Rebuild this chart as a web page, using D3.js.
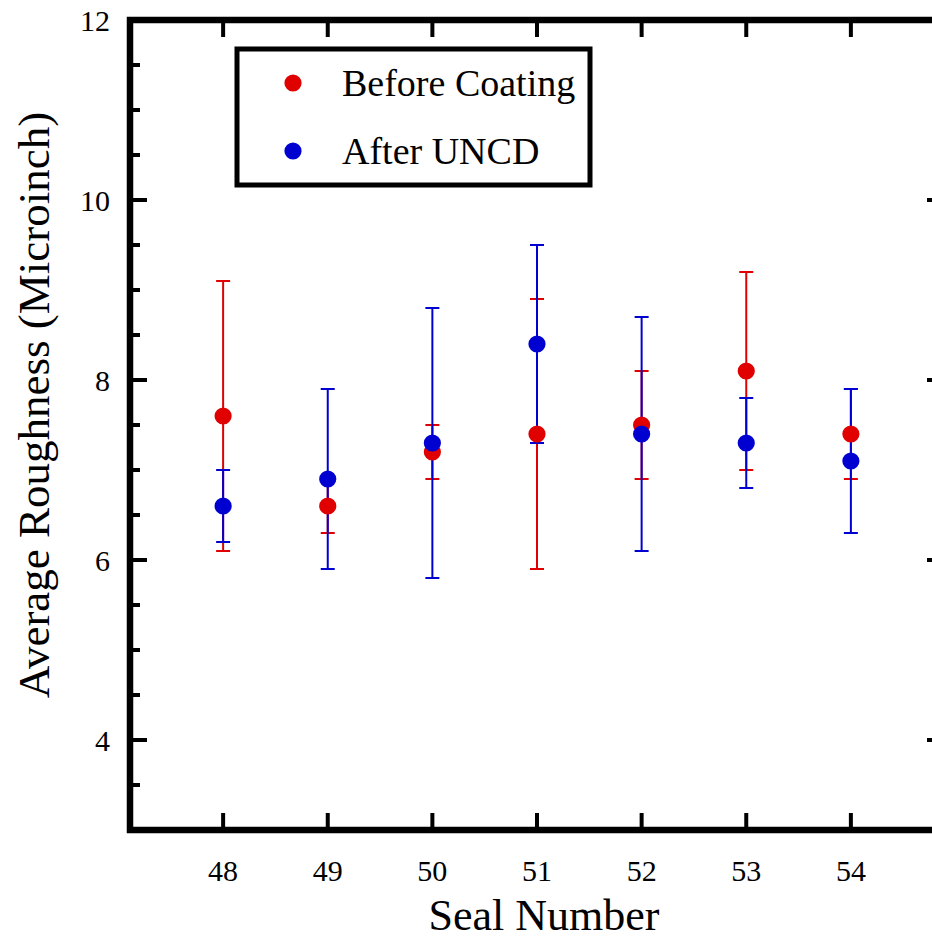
<!DOCTYPE html>
<html><head><meta charset="utf-8">
<script src="https://cdn.jsdelivr.net/npm/d3@7"></script>
<style>body{margin:0;background:#fff}svg{display:block}text{font-family:"Liberation Serif","Times New Roman",serif;fill:#000}</style>
</head><body><svg id="c" width="932" height="941"></svg>
<script>
const seals = [48, 49, 50, 51, 52, 53, 54];
const beforeMean = [7.6, 6.6, 7.2, 7.4, 7.5, 8.1, 7.4];
const beforeHigh = [9.1, 6.9, 7.5, 8.9, 8.1, 9.2, 7.9];
const beforeLow  = [6.1, 6.3, 6.9, 5.9, 6.9, 7.0, 6.9];
const afterMean  = [6.6, 6.9, 7.3, 8.4, 7.4, 7.3, 7.1];
const afterHigh  = [7.0, 7.9, 8.8, 9.5, 8.7, 7.8, 7.9];
const afterLow   = [6.2, 5.9, 5.8, 7.3, 6.1, 6.8, 6.3];
const yTickLabels = [4, 6, 8, 10, 12];
const seriesNames = ["Before Coating", "After UNCD"];
const colors = ["#e00000", "#0000d0"];

const svg = d3.select("#c");
const L = 130, R = 944, T = 20, B = 830;
const x = d3.scaleLinear().domain([47.11, 54.89]).range([L, R]);
const y = d3.scaleLinear().domain([3, 12]).range([B, T]);

const series = [
  {mean: beforeMean, hi: beforeHigh, lo: beforeLow, color: colors[0]},
  {mean: afterMean, hi: afterHigh, lo: afterLow, color: colors[1]}
];

// error bars
series.forEach(s => {
  const g = svg.append("g").attr("stroke", s.color).attr("stroke-width", 2);
  seals.forEach((k, i) => {
    g.append("line").attr("x1", x(k)).attr("x2", x(k)).attr("y1", y(s.hi[i])).attr("y2", y(s.lo[i]));
    [s.hi[i], s.lo[i]].forEach(v => g.append("line").attr("x1", x(k) - 7).attr("x2", x(k) + 7).attr("y1", y(v)).attr("y2", y(v)));
  });
});
// markers
series.forEach(s => {
  svg.append("g").selectAll("circle").data(seals).join("circle")
    .attr("cx", d => x(d)).attr("cy", (d, i) => y(s.mean[i])).attr("r", 8.6).attr("fill", s.color);
});

// axes
const minorY = d3.range(3.5, 12, 0.5).filter(v => v % 2 !== 0);
const ax = svg.append("g").attr("stroke", "#000");
yTickLabels.forEach(v => {
  ax.append("line").attr("x1", L).attr("x2", L + 17).attr("y1", y(v)).attr("y2", y(v)).attr("stroke-width", 4);
  ax.append("line").attr("x1", R).attr("x2", R - 17).attr("y1", y(v)).attr("y2", y(v)).attr("stroke-width", 4);
});
minorY.forEach(v => {
  ax.append("line").attr("x1", L).attr("x2", L + 10).attr("y1", y(v)).attr("y2", y(v)).attr("stroke-width", 4);
  ax.append("line").attr("x1", R).attr("x2", R - 10).attr("y1", y(v)).attr("y2", y(v)).attr("stroke-width", 4);
});
seals.forEach(k => {
  ax.append("line").attr("x1", x(k)).attr("x2", x(k)).attr("y1", B).attr("y2", B - 17).attr("stroke-width", 4);
  ax.append("line").attr("x1", x(k)).attr("x2", x(k)).attr("y1", T).attr("y2", T + 17).attr("stroke-width", 4);
});
ax.append("rect").attr("x", L).attr("y", T).attr("width", R - L).attr("height", B - T)
  .attr("fill", "none").attr("stroke-width", 6.5);

// tick labels
svg.append("g").selectAll("text").data(yTickLabels).join("text")
  .attr("x", 110).attr("y", d => y(d)).attr("dy", "0.35em").attr("text-anchor", "end")
  .attr("font-size", 30).text(d => d);
svg.append("g").selectAll("text").data(seals).join("text")
  .attr("x", d => x(d)).attr("y", 881).attr("text-anchor", "middle")
  .attr("font-size", 30).text(d => d);

// titles
svg.append("text").attr("x", 544).attr("y", 930).attr("text-anchor", "middle")
  .attr("font-size", 44).text("Seal Number");
svg.append("text").attr("transform", `translate(49,${405}) rotate(-90)`)
  .attr("text-anchor", "middle").attr("font-size", 45).text("Average Roughness (Microinch)");

// legend
const lg = svg.append("g");
lg.append("rect").attr("x", 237).attr("y", 49).attr("width", 353).attr("height", 136)
  .attr("fill", "#fff").attr("stroke", "#000").attr("stroke-width", 5);
seriesNames.forEach((n, i) => {
  const yy = 83 + i * 68;
  lg.append("circle").attr("cx", 293).attr("cy", yy).attr("r", 8.6).attr("fill", colors[i]);
  lg.append("text").attr("x", 342).attr("y", yy).attr("dy", "0.35em").attr("font-size", 38).text(n);
});
</script></body></html>
